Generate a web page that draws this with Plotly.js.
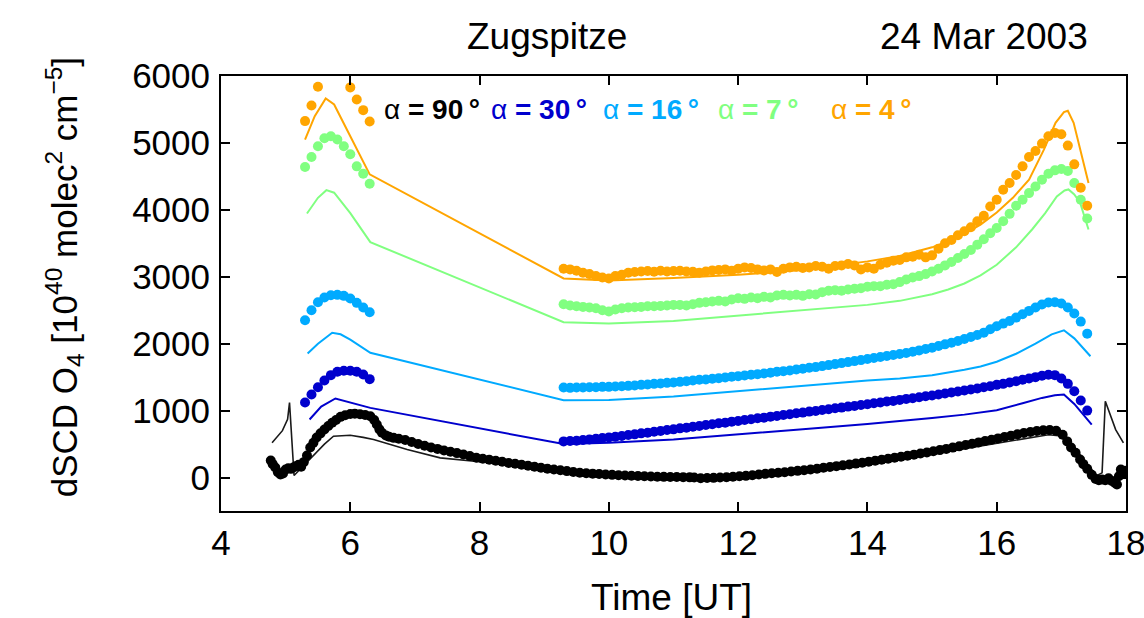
<!DOCTYPE html>
<html>
<head>
<meta charset="utf-8">
<script src="https://cdn.plot.ly/plotly-3.0.1.min.js"></script>
<style>html,body{margin:0;padding:0;background:#fff;}#chart{width:1144px;height:618px;}</style>
</head>
<body>
<div id="chart"></div>
<script>
// ---------------- DATA ----------------
var xTicks = [4, 6, 8, 10, 12, 14, 16, 18];
var yTicks = [0, 1000, 2000, 3000, 4000, 5000, 6000];
var angleLabels = ['90', '30', '16', '7', '4'];

// measurement times (UT) for the low elevation angles
var tMorning = [5.3, 5.4, 5.5, 5.6, 5.7, 5.8, 5.9, 6.0, 6.1, 6.2, 6.3];
var tDay = [9.3, 9.4, 9.5, 9.6, 9.7, 9.8, 9.9, 10.0, 10.1, 10.2, 10.3, 10.4, 10.5, 10.6, 10.7, 10.8, 10.9,
  11.0, 11.1, 11.2, 11.3, 11.4, 11.5, 11.6, 11.7, 11.8, 11.9, 12.0, 12.1, 12.2, 12.3, 12.4, 12.5, 12.6, 12.7, 12.8, 12.9,
  13.0, 13.1, 13.2, 13.3, 13.4, 13.5, 13.6, 13.7, 13.8, 13.9, 14.0, 14.1, 14.2, 14.3, 14.4, 14.5, 14.6, 14.7, 14.8, 14.9,
  15.0, 15.1, 15.2, 15.3, 15.4, 15.5, 15.6, 15.7, 15.8, 15.9, 16.0, 16.1, 16.2, 16.3, 16.4, 16.5, 16.6, 16.7, 16.8, 16.9,
  17.0, 17.1, 17.2, 17.3, 17.4];

// alpha = 4 deg (orange)
var obs4Morning = [5326, 5560, 5840, 6080, 6180, 6200, 6120, 5830, 5650, 5490, 5320];
var obs4Day = [3120, 3110, 3090, 3060, 3040, 3010, 2990, 2975, 3010, 3030, 3060, 3070, 3080, 3085, 3075, 3090, 3080,
  3085, 3090, 3080, 3075, 3060, 3080, 3095, 3100, 3110, 3090, 3120, 3140, 3130, 3110, 3095, 3110, 3070, 3120, 3140, 3150,
  3130, 3140, 3160, 3150, 3120, 3160, 3170, 3190, 3170, 3110, 3140, 3120, 3180, 3210, 3240, 3250, 3290, 3300, 3330, 3290,
  3320, 3420, 3500, 3550, 3620, 3680, 3740, 3830, 3910, 4050, 4150, 4300, 4400, 4520, 4650, 4790, 4880, 4990, 5100, 5150,
  5130, 4960, 4680, 4330, 4060];
var mod4T = [5.3, 5.45, 5.62, 5.75, 6.0, 6.3, 9.3, 10.0, 11.0, 12.0, 13.0, 14.0, 14.5, 15.0, 15.25, 15.5, 15.75, 16.0,
  16.25, 16.5, 16.73, 16.91, 17.04, 17.1, 17.19, 17.32, 17.42];
var mod4 = [5050, 5400, 5665, 5575, 5100, 4530, 2975, 2945, 2980, 3030, 3100, 3230, 3310, 3440, 3530, 3640, 3780, 3960,
  4180, 4450, 4900, 5300, 5460, 5480, 5300, 4800, 4400];

// alpha = 7 deg (green)
var obs7Morning = [4640, 4790, 4950, 5070, 5100, 5050, 4950, 4830, 4650, 4540, 4390];
var obs7Day = [2590, 2570, 2560, 2550, 2540, 2530, 2500, 2480, 2510, 2530, 2540, 2545, 2550, 2560, 2560, 2565, 2570,
  2580, 2580, 2570, 2590, 2610, 2620, 2630, 2640, 2630, 2660, 2680, 2670, 2690, 2680, 2700, 2690, 2720, 2730, 2720, 2730,
  2715, 2740, 2735, 2770, 2790, 2800, 2790, 2810, 2820, 2830, 2850, 2860, 2860, 2880, 2890, 2920, 2960, 2990, 3010, 3040,
  3080, 3120, 3170, 3220, 3280, 3340, 3400, 3480, 3560, 3650, 3730, 3830, 3940, 4060, 4150, 4250, 4350, 4450, 4540, 4590,
  4610, 4580, 4400, 4150, 3870];
var mod7T = [5.33, 5.5, 5.63, 5.75, 6.0, 6.31, 9.3, 10.0, 11.0, 12.0, 13.0, 14.0, 14.5, 15.0, 15.25, 15.5, 15.75, 16.0,
  16.3, 16.55, 16.75, 16.93, 17.05, 17.11, 17.2, 17.29, 17.42];
var mod7 = [3946, 4180, 4294, 4256, 3950, 3517, 2322, 2300, 2340, 2420, 2490, 2580, 2640, 2740, 2810, 2900, 3020, 3180,
  3440, 3710, 3950, 4200, 4290, 4305, 4230, 4106, 3707];

// alpha = 16 deg (light blue)
var obs16Morning = [2350, 2500, 2620, 2690, 2725, 2730, 2715, 2675, 2610, 2540, 2470];
var obs16Day = [1345, 1340, 1345, 1345, 1350, 1350, 1355, 1355, 1360, 1365, 1370, 1375, 1385, 1390, 1400, 1405, 1415,
  1420, 1430, 1440, 1450, 1460, 1465, 1475, 1485, 1495, 1505, 1515, 1525, 1535, 1545, 1555, 1565, 1580, 1590, 1600, 1615,
  1625, 1640, 1650, 1665, 1680, 1695, 1710, 1725, 1740, 1755, 1770, 1785, 1800, 1815, 1830, 1845, 1860, 1880, 1900, 1920,
  1940, 1965, 1990, 2015, 2040, 2070, 2100, 2130, 2165, 2215, 2260, 2300, 2340, 2390, 2440, 2490, 2540, 2585, 2615, 2620,
  2600, 2540, 2450, 2330, 2150];
var mod16T = [5.34, 5.5, 5.72, 5.85, 6.0, 6.31, 9.3, 10.0, 11.0, 12.0, 13.0, 14.0, 14.5, 15.0, 15.5, 15.75, 16.0, 16.3,
  16.6, 16.85, 17.04, 17.2, 17.45];
var mod16 = [1853, 2000, 2163, 2140, 2060, 1864, 1156, 1160, 1210, 1290, 1380, 1450, 1480, 1530, 1610, 1660, 1730, 1850,
  2000, 2140, 2200, 2080, 1813];

// alpha = 30 deg (blue)
var obs30Morning = [1120, 1240, 1350, 1450, 1530, 1580, 1595, 1595, 1580, 1540, 1470];
var obs30Day = [540, 545, 550, 560, 570, 580, 590, 600, 610, 620, 635, 645, 660, 670, 685, 695, 710,
  720, 735, 745, 760, 770, 785, 795, 810, 820, 835, 845, 860, 870, 885, 895, 910, 920, 935, 945, 960,
  970, 985, 995, 1010, 1020, 1035, 1045, 1060, 1070, 1085, 1095, 1110, 1120, 1135, 1145, 1160, 1175, 1185, 1200, 1215,
  1225, 1240, 1255, 1270, 1285, 1300, 1315, 1330, 1350, 1365, 1385, 1400, 1420, 1440, 1460, 1480, 1500, 1520, 1535, 1530,
  1480, 1400, 1290, 1150, 1000];
var mod30T = [5.37, 5.55, 5.77, 6.0, 6.31, 9.3, 10.0, 11.0, 12.0, 13.0, 14.0, 14.5, 15.0, 15.5, 16.0, 16.4, 16.7, 16.9,
  17.04, 17.2, 17.47];
var mod30 = [867, 1060, 1181, 1120, 1041, 500, 520, 570, 640, 720, 800, 840, 890, 940, 1005, 1110, 1190, 1230,
  1241, 1100, 792];

// alpha = 90 deg (black, zenith)
var t90 = [4.77, 4.8, 4.84, 4.88, 4.92, 4.96, 5.0, 5.04, 5.08, 5.12, 5.16, 5.2, 5.24, 5.28, 5.33, 5.38, 5.43, 5.48, 5.54,
  5.6, 5.66, 5.72, 5.78, 5.85, 5.92, 6.0, 6.07, 6.15, 6.23, 6.31, 6.37, 6.41, 6.45, 6.49, 6.55, 6.6, 6.67, 6.75, 6.85,
  6.95, 7.05, 7.15, 7.25, 7.35, 7.45, 7.55, 7.65, 7.75, 7.85, 7.95, 8.05, 8.15, 8.25, 8.35, 8.45, 8.55, 8.65, 8.75, 8.85,
  8.95, 9.05, 9.15, 9.25, 9.35, 9.45, 9.55, 9.65, 9.75, 9.85, 9.95, 10.05, 10.15, 10.25, 10.35, 10.45, 10.55, 10.65,
  10.75, 10.85, 10.95, 11.05, 11.15, 11.25, 11.32, 11.42, 11.52, 11.62, 11.72, 11.82, 11.92, 12.02, 12.12, 12.22, 12.32,
  12.42, 12.52, 12.62, 12.72, 12.82, 12.92, 13.02, 13.12, 13.22, 13.32, 13.42, 13.52, 13.62, 13.72, 13.82, 13.92, 14.02,
  14.12, 14.22, 14.32, 14.42, 14.52, 14.62, 14.72, 14.82, 14.92, 15.02, 15.12, 15.22, 15.32, 15.42, 15.52, 15.62, 15.72,
  15.82, 15.92, 16.02, 16.12, 16.22, 16.32, 16.42, 16.52, 16.62, 16.72, 16.82, 16.92, 17.02, 17.09, 17.15, 17.22, 17.29,
  17.34, 17.4, 17.47, 17.53, 17.58, 17.63, 17.68, 17.73, 17.78, 17.83, 17.86, 17.89, 17.92, 17.96, 17.99];
var obs90 = [254, 200, 150, 80, 45, 60, 120, 140, 130, 150, 170, 190, 160, 230, 330, 448, 520, 598, 660,
  717, 770, 818, 860, 907, 930, 950, 955, 945, 935, 917, 860, 792, 720, 668, 630, 610, 593, 580, 560,
  530, 500, 475, 450, 428, 405, 385, 365, 345, 320, 295, 280, 265, 250, 235, 218, 205, 190, 175, 160,
  145, 132, 120, 108, 96, 82, 72, 64, 58, 52, 46, 40, 35, 30, 26, 22, 18, 15,
  12, 10, 9, 8, 6, 3, 0, -10, -8, -5, 0, 5, 12, 18, 25, 35, 45,
  55, 63, 72, 80, 90, 100, 110, 120, 132, 145, 158, 170, 182, 195, 208, 222, 236,
  250, 265, 280, 295, 310, 326, 342, 358, 375, 392, 410, 428, 447, 466, 485, 505, 525,
  545, 565, 585, 605, 625, 645, 665, 680, 695, 705, 710, 700, 640, 540, 450, 370, 269,
  200, 130, 40, -20, -40, -30, -40, -10, -50, -80, -105, 20, 120, 60, 100];
var mod90T = [4.79, 4.95, 5.03, 5.06, 5.13, 5.2, 5.3, 5.43, 5.6, 5.74, 5.9, 6.0, 6.2, 6.36, 6.88, 7.39, 8.0, 8.5, 9.0,
  9.5, 10.0, 10.5, 11.0, 11.5, 12.0, 12.5, 13.0, 13.5, 14.0, 14.5, 15.0, 15.5, 16.0, 16.5, 16.8, 17.0, 17.2, 17.4,
  17.55, 17.63, 17.68, 17.84, 17.96];
var mod90 = [520, 700, 870, 1120, 30, 100, 200, 319, 500, 617, 630, 632, 600, 568, 419, 294, 235, 190, 145,
  100, 70, 45, 30, 25, 35, 60, 100, 150, 210, 270, 350, 430, 520, 600, 640, 620, 450, 200,
  30, 70, 1140, 717, 519];

// ---------------- STYLE ----------------
var cBlack = '#000000', cBlue = '#0000CD', cLight = '#00AAFF', cGreen = '#80FF80', cOrange = '#FFA500';
var FONT = 'Liberation Sans, Arial, Helvetica, sans-serif';
var MS = 10;

function lineTrace(x, y, color, w) {
  return {x: x, y: y, type: 'scatter', mode: 'lines', line: {color: color, width: w}, hoverinfo: 'skip'};
}
function dotTrace(x, y, color) {
  return {x: x, y: y, type: 'scatter', mode: 'markers', marker: {color: color, size: MS, line: {width: 0}}, hoverinfo: 'skip'};
}

var traces = [
  lineTrace(mod90T, mod90, '#1a1a1a', 1.6),
  lineTrace(mod30T, mod30, cBlue, 2),
  lineTrace(mod16T, mod16, cLight, 2),
  lineTrace(mod7T, mod7, cGreen, 2),
  lineTrace(mod4T, mod4, cOrange, 2),
  dotTrace(t90, obs90, cBlack),
  dotTrace(tMorning, obs30Morning, cBlue),
  dotTrace(tDay, obs30Day, cBlue),
  dotTrace(tMorning, obs16Morning, cLight),
  dotTrace(tDay, obs16Day, cLight),
  dotTrace(tMorning, obs7Morning, cGreen),
  dotTrace(tDay, obs7Day, cGreen),
  dotTrace(tMorning, obs4Morning, cOrange),
  dotTrace(tDay, obs4Day, cOrange)
];

var legendColors = [cBlack, cBlue, cLight, cGreen, cOrange];
var legendX = [0.178, 0.296, 0.420, 0.547, 0.672];
var annotations = [];
for (var i = 0; i < angleLabels.length; i++) {
  annotations.push({
    xref: 'paper', yref: 'paper', x: legendX[i], y: 0.922, xanchor: 'left', yanchor: 'middle',
    showarrow: false, text: 'α <b>= ' + angleLabels[i] + '\u2009°</b>',
    font: {family: FONT, size: 28, color: legendColors[i]}
  });
}
annotations.push({xref: 'paper', yref: 'paper', x: 0.360, y: 1.09, xanchor: 'center', yanchor: 'middle',
  showarrow: false, text: 'Zugspitze', font: {family: FONT, size: 37, color: '#000'}});
annotations.push({xref: 'paper', yref: 'paper', x: 0.960, y: 1.09, xanchor: 'right', yanchor: 'middle',
  showarrow: false, text: '24 Mar 2003', font: {family: FONT, size: 37, color: '#000'}});
annotations.push({xref: 'paper', yref: 'paper', x: 0.498, y: -0.198, xanchor: 'center', yanchor: 'middle',
  showarrow: false, text: 'Time [UT]', font: {family: FONT, size: 37, color: '#000'}});
annotations.push({xref: 'paper', yref: 'paper', x: -0.172, y: 0.538, xanchor: 'center', yanchor: 'middle',
  showarrow: false, textangle: -90,
  text: 'dSCD O<sub>4</sub> [10<sup>40</sup> molec<sup>2</sup> cm<sup>−5</sup>]',
  font: {family: FONT, size: 35, color: '#000'}});

var axisCommon = {
  showline: true, linecolor: '#000', linewidth: 2, mirror: 'ticks',
  ticks: 'inside', ticklen: 9, tickwidth: 2, tickcolor: '#000',
  showgrid: false, zeroline: false, fixedrange: true,
  tickfont: {family: FONT, size: 35, color: '#000'}
};

var layout = {
  width: 1144, height: 618,
  margin: {l: 221, r: 18, t: 76, b: 107, pad: 0},
  paper_bgcolor: '#fff', plot_bgcolor: '#fff',
  showlegend: false,
  font: {family: FONT, color: '#000'},
  xaxis: Object.assign({}, axisCommon, {range: [4, 18], tickmode: 'array', tickvals: xTicks, ticktext: xTicks.map(String),
    ticklabeloverflow: 'allow'}),
  yaxis: Object.assign({}, axisCommon, {range: [-500, 6000], tickmode: 'array', tickvals: yTicks, ticktext: yTicks.map(String),
    ticklabelstandoff: 2}),
  annotations: annotations
};

Plotly.newPlot('chart', traces, layout, {staticPlot: true, displayModeBar: false});
</script>
</body>
</html>
